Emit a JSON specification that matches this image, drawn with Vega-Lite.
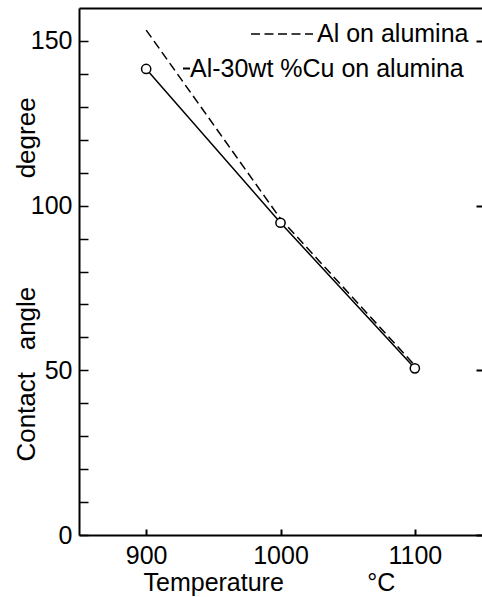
{
  "$schema": "https://vega.github.io/schema/vega-lite/v6.json",
  "width": 403,
  "height": 527,
  "autosize": "none",
  "padding": {"left": 79, "top": 8, "right": 0, "bottom": 62},
  "background": "white",
  "config": {
    "view": {"stroke": null},
    "font": "Liberation Sans",
    "axis": {"domainColor": "black", "tickColor": "black", "labelColor": "black", "titleColor": "black", "grid": false}
  },
  "datasets": {
    "al": [
      {"T": 900, "angle": 153.3, "series": "Al on alumina"},
      {"T": 1000, "angle": 96, "series": "Al on alumina"},
      {"T": 1100, "angle": 51.5, "series": "Al on alumina"}
    ],
    "alcu": [
      {"T": 900, "angle": 141.5, "series": "Al-30wt %Cu on alumina"},
      {"T": 1000, "angle": 94.8, "series": "Al-30wt %Cu on alumina"},
      {"T": 1100, "angle": 50.6, "series": "Al-30wt %Cu on alumina"}
    ]
  },
  "resolve": {"axis": {"x": "independent", "y": "independent"}},
  "layer": [
    {
      "data": {"name": "al"},
      "mark": {"type": "line", "strokeWidth": 1.5, "color": "black"},
      "encoding": {
        "x": {
          "field": "T", "type": "quantitative",
          "scale": {"domain": [850, 1150], "nice": false, "zero": false},
          "axis": {
            "orient": "bottom", "values": [900, 1000, 1100], "format": "d", "tickSize": -6, "tickWidth": 2, "domainWidth": 2,
            "labelFontSize": 25, "labelPadding": 14, "labelFlush": false,
            "title": "Temperature\u00a0\u00a0\u00a0\u00a0\u00a0\u00a0\u00a0\u00a0\u00a0\u00a0\u00a0\u00a0°C",
            "titleFontSize": 25, "titleFontWeight": "normal", "titleX": 64, "titleY": 55,
            "titleAlign": "left", "titleBaseline": "alphabetic", "titleAnchor": "start"
          }
        },
        "y": {
          "field": "angle", "type": "quantitative",
          "scale": {"domain": [0, 160], "nice": false},
          "axis": {
            "orient": "left", "values": [0, 10, 20, 30, 40, 50, 60, 70, 80, 90, 100, 110, 120, 130, 140, 150],
            "tickSize": -9, "tickWidth": 1.5, "domainWidth": 2,
            "labelFontSize": 25, "labelPadding": 16, "labelBaseline": "middle",
            "labelExpr": "datum.value % 50 === 0 ? datum.label : ''",
            "title": "Contact\u00a0\u00a0\u00a0angle\u00a0\u00a0\u00a0\u00a0\u00a0\u00a0\u00a0\u00a0\u00a0\u00a0\u00a0\u00a0\u00a0\u00a0\u00a0degree",
            "titleFontSize": 26, "titleFontWeight": "normal", "titleX": -45, "titleY": 271,
            "titleAngle": -90, "titleAlign": "center", "titleBaseline": "alphabetic"
          }
        },
        "strokeDash": {
          "field": "series", "type": "nominal",
          "scale": {"range": [[9, 4.5]]},
          "legend": {
            "orient": "none", "legendX": 171, "legendY": -6, "title": null, "padding": 0,
            "symbolType": "stroke", "symbolSize": 3844, "symbolStrokeWidth": 1.5, "symbolStrokeColor": "black",
            "labelFontSize": 25, "labelOffset": 3, "labelColor": "black", "labelLimit": 400
          }
        }
      }
    },
    {
      "data": {"name": "alcu"},
      "mark": {"type": "line", "strokeWidth": 1.5},
      "encoding": {
        "x": {
          "field": "T", "type": "quantitative",
          "axis": {"orient": "top", "domainWidth": 2, "ticks": false, "labels": false, "title": null}
        },
        "y": {
          "field": "angle", "type": "quantitative",
          "axis": {"orient": "right", "domain": false, "labels": false, "values": [0, 50, 100, 150], "tickSize": -6, "tickWidth": 2, "title": null}
        },
        "color": {
          "field": "series", "type": "nominal",
          "scale": {"range": ["black"]},
          "legend": {
            "orient": "none", "legendX": 95, "legendY": 48, "title": null, "padding": 0,
            "symbolType": "stroke", "symbolSize": 49, "symbolStrokeWidth": 2, "symbolStrokeColor": "black",
            "labelFontSize": 25, "labelOffset": -9, "labelColor": "black", "labelLimit": 400
          }
        }
      }
    },
    {
      "data": {"name": "alcu"},
      "mark": {"type": "point", "shape": "circle", "filled": true, "fill": "white", "stroke": "black", "strokeWidth": 1.5, "size": 85, "opacity": 1},
      "encoding": {
        "x": {"field": "T", "type": "quantitative", "axis": null},
        "y": {"field": "angle", "type": "quantitative", "axis": null}
      }
    }
  ]
}
